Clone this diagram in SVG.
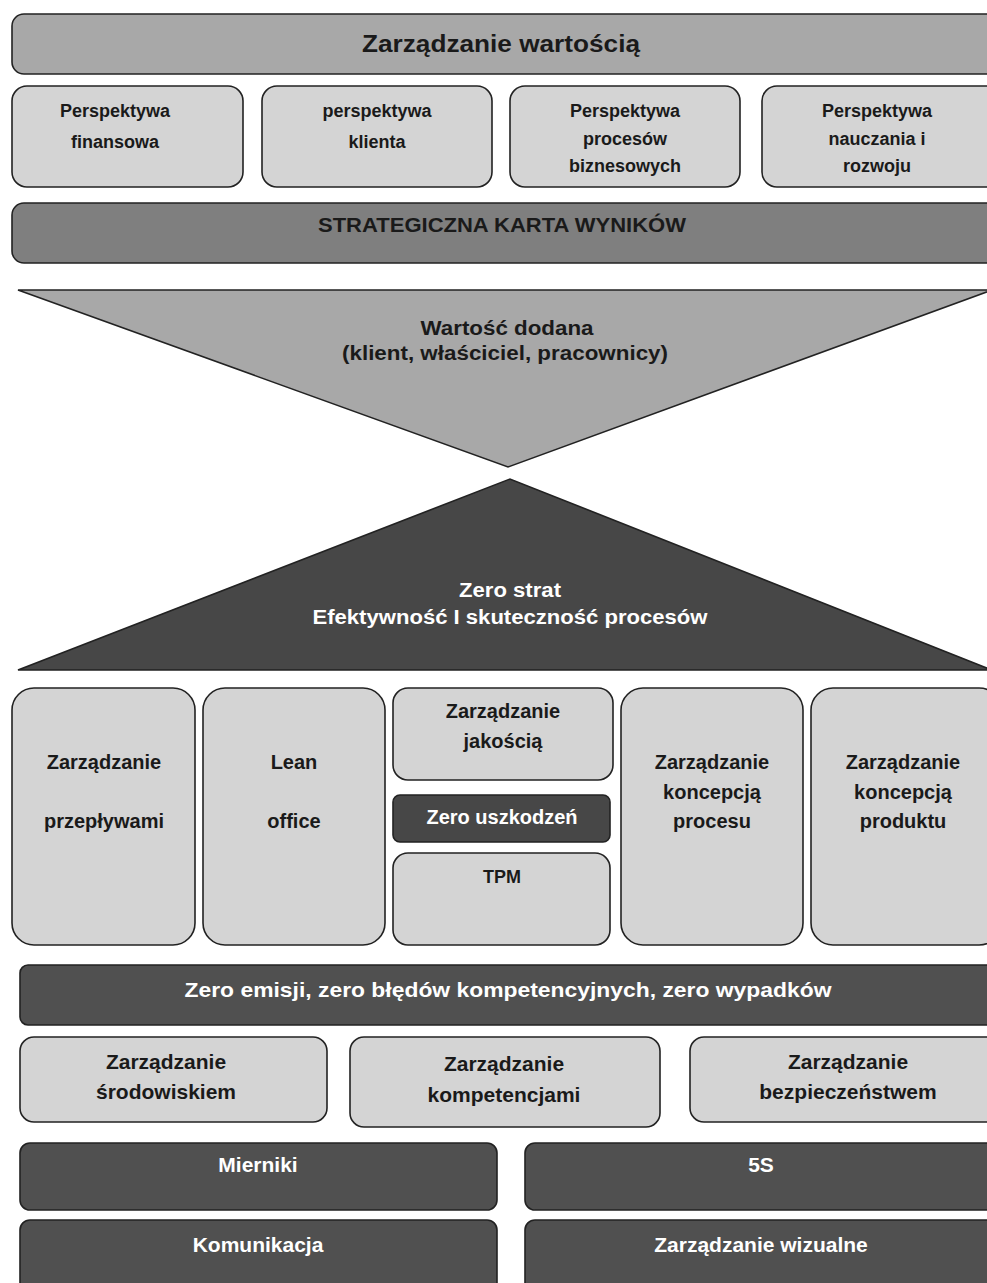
<svg xmlns="http://www.w3.org/2000/svg" width="987" height="1283" viewBox="0 0 987 1283">
<style>
.b{stroke:#222;stroke-width:1.6}
.l{fill:#d4d4d4}
.m{fill:#a8a8a8}
.g{fill:#7f7f7f}
.d{fill:#505050}
.dd{fill:#474747}
text{font-family:"Liberation Sans",Arial,sans-serif;font-weight:bold;font-size:20px;text-anchor:middle;fill:#1a1a1a}
.w{fill:#fff}
.s{font-size:18px}
.t{font-size:24px}
.x{font-size:21px}
</style>
<rect width="987" height="1283" fill="#fff"/>
<g id="zarzadzanie-wartoscia"><rect class="b m" x="12" y="14" width="990" height="60" rx="12"/><text class="t" x="501" y="52" textLength="278" lengthAdjust="spacingAndGlyphs">Zarządzanie wartością</text></g>
<g id="p1"><rect class="b l" x="12" y="86" width="231" height="101" rx="15"/><text class="s" x="115" y="117">Perspektywa</text><text class="s" x="115" y="148">finansowa</text></g>
<g id="p2"><rect class="b l" x="262" y="86" width="230" height="101" rx="15"/><text class="s" x="377" y="117">perspektywa</text><text class="s" x="377" y="148">klienta</text></g>
<g id="p3"><rect class="b l" x="510" y="86" width="230" height="101" rx="15"/><text class="s" x="625" y="117">Perspektywa</text><text class="s" x="625" y="145">procesów</text><text class="s" x="625" y="172">biznesowych</text></g>
<g id="p4"><rect class="b l" x="762" y="86" width="240" height="101" rx="15"/><text class="s" x="877" y="117">Perspektywa</text><text class="s" x="877" y="145">nauczania i</text><text class="s" x="877" y="172">rozwoju</text></g>
<g id="strategiczna"><rect class="b g" x="12" y="203" width="990" height="60" rx="12"/><text x="502" y="232" textLength="368" lengthAdjust="spacingAndGlyphs">STRATEGICZNA KARTA WYNIKÓW</text></g>
<g id="wartosc-dodana"><polygon class="b m" points="18,290 992,290 508,467"/><text x="507" y="335" textLength="173" lengthAdjust="spacingAndGlyphs">Wartość dodana</text><text x="505" y="360" textLength="326" lengthAdjust="spacingAndGlyphs">(klient, właściciel, pracownicy)</text></g>
<g id="zero-strat"><polygon class="b dd" points="18,670 992,670 510,479"/><text class="w" x="510" y="597" textLength="102" lengthAdjust="spacingAndGlyphs">Zero strat</text><text class="w" x="510" y="624" textLength="395" lengthAdjust="spacingAndGlyphs">Efektywność I skuteczność procesów</text></g>
<g id="przeplywy"><rect class="b l" x="12" y="688" width="183" height="257" rx="22"/><text x="104" y="769">Zarządzanie</text><text x="104" y="828">przepływami</text></g>
<g id="lean"><rect class="b l" x="203" y="688" width="182" height="257" rx="22"/><text x="294" y="769">Lean</text><text x="294" y="828">office</text></g>
<g id="jakosc"><rect class="b l" x="393" y="688" width="220" height="92" rx="15"/><text x="503" y="718">Zarządzanie</text><text x="503" y="748">jakością</text></g>
<g id="zero-uszkodzen"><rect class="b dd" x="393" y="795" width="217" height="47" rx="7"/><text class="w" x="502" y="824">Zero uszkodzeń</text></g>
<g id="tpm"><rect class="b l" x="393" y="853" width="217" height="92" rx="15"/><text class="s" x="502" y="883">TPM</text></g>
<g id="koncepcja-procesu"><rect class="b l" x="621" y="688" width="182" height="257" rx="22"/><text x="712" y="769">Zarządzanie</text><text x="712" y="799">koncepcją</text><text x="712" y="828">procesu</text></g>
<g id="koncepcja-produktu"><rect class="b l" x="811" y="688" width="190" height="257" rx="22"/><text x="903" y="769">Zarządzanie</text><text x="903" y="799">koncepcją</text><text x="903" y="828">produktu</text></g>
<g id="zero-emisji"><rect class="b d" x="20" y="965" width="982" height="60" rx="8"/><text class="w x" x="508" y="997" textLength="647" lengthAdjust="spacingAndGlyphs">Zero emisji, zero błędów kompetencyjnych, zero wypadków</text></g>
<g id="srodowisko"><rect class="b l" x="20" y="1037" width="307" height="85" rx="14"/><text class="x" x="166" y="1069">Zarządzanie</text><text class="x" x="166" y="1099">środowiskiem</text></g>
<g id="kompetencje"><rect class="b l" x="350" y="1037" width="310" height="90" rx="14"/><text class="x" x="504" y="1071">Zarządzanie</text><text class="x" x="504" y="1102">kompetencjami</text></g>
<g id="bezpieczenstwo"><rect class="b l" x="690" y="1037" width="312" height="85" rx="14"/><text class="x" x="848" y="1069">Zarządzanie</text><text class="x" x="848" y="1099">bezpieczeństwem</text></g>
<g id="mierniki"><rect class="b d" x="20" y="1143" width="477" height="67" rx="10"/><text class="w x" x="258" y="1172">Mierniki</text></g>
<g id="s5"><rect class="b d" x="525" y="1143" width="477" height="67" rx="10"/><text class="w x" x="761" y="1172">5S</text></g>
<g id="komunikacja"><rect class="b d" x="20" y="1220" width="477" height="80" rx="10"/><text class="w x" x="258" y="1252">Komunikacja</text></g>
<g id="wizualne"><rect class="b d" x="525" y="1220" width="477" height="80" rx="10"/><text class="w x" x="761" y="1252">Zarządzanie wizualne</text></g>
</svg>
